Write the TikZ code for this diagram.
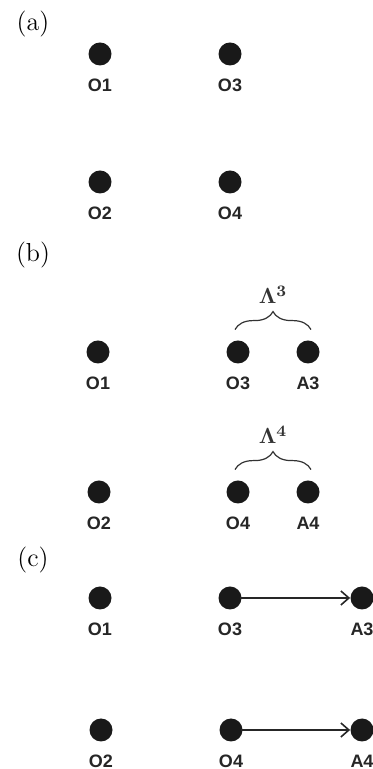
\documentclass[tikz,border=0pt]{standalone}
\usepackage[no-math]{fontspec}
\setsansfont{Liberation Sans}
\usetikzlibrary{arrows.meta,decorations.pathreplacing}

\tikzset{
  dot/.style={circle, fill=black!90, inner sep=0pt, minimum size=11.5pt},
  lbl/.style={font=\sffamily\bfseries\fontsize{9}{10}\selectfont, text=black!85, inner sep=0pt, label distance=6.5pt},
  panel/.style={font=\fontsize{13}{15}\selectfont, inner sep=0pt},
  grp/.style={decorate, decoration={brace, amplitude=9pt}, line width=0.6pt, black!80},
  lam/.style={inner sep=0pt, font=\fontsize{11}{12}\selectfont},
  arr/.style={-{Straight Barb[length=4pt, width=7pt, line width=0.8pt]}, line width=0.9pt, black!85, shorten <=-1pt}
}

\begin{document}
\begin{tikzpicture}[x=0.5pt, y=0.5pt]
\useasboundingbox (0,0) rectangle (372,769);

% (a)
\node[panel] (pa) at (33,744.5) {(a)};
\node[dot, label={[lbl, name=o1al]below:O1}] (o1a) at (100,715) {};
\node[dot, label={[lbl, name=o3al]below:O3}] (o3a) at (230,715) {};
\node[dot, label={[lbl, name=o2al]below:O2}] (o2a) at (100,587) {};
\node[dot, label={[lbl, name=o4al]below:O4}] (o4a) at (230,587) {};

% (b)
\node[panel] (pb) at (33,514) {(b)};
\node[dot, label={[lbl, name=o1bl]below:O1}] (o1b) at (98,417) {};
\node[dot, label={[lbl, name=o3bl]below:O3}] (o3b) at (238,417) {};
\node[dot, label={[lbl, name=a3bl]below:A3}] (a3b) at (308,417) {};
\node[dot, label={[lbl, name=o2bl]below:O2}] (o2b) at (99,277) {};
\node[dot, label={[lbl, name=o4bl]below:O4}] (o4b) at (238,277) {};
\node[dot, label={[lbl, name=a4bl]below:A4}] (a4b) at (308,277) {};
\draw[grp] ([xshift=-1.5pt, yshift=5.25pt]o3b.north) -- ([xshift=1.5pt, yshift=5.25pt]a3b.north)
  node[lam, midway, above=12.5pt] (lam3) {$\mathbf{\Lambda}^{\mathbf{3}}$};
\draw[grp] ([xshift=-1.5pt, yshift=5.25pt]o4b.north) -- ([xshift=1.5pt, yshift=5.25pt]a4b.north)
  node[lam, midway, above=12.5pt] (lam4) {$\mathbf{\Lambda}^{\mathbf{4}}$};

% (c)
\node[panel] (pc) at (33,209) {(c)};
\node[dot, label={[lbl, name=o1cl]below:O1}] (o1c) at (100,171) {};
\node[dot, label={[lbl, name=o3cl]below:O3}] (o3c) at (230,171) {};
\node[dot, label={[lbl, name=a3cl]below:A3}] (a3c) at (362,171) {};
\node[dot, label={[lbl, name=o2cl]below:O2}] (o2c) at (101,39) {};
\node[dot, label={[lbl, name=o4cl]below:O4}] (o4c) at (231,39) {};
\node[dot, label={[lbl, name=a4cl]below:A4}] (a4c) at (362,39) {};
\draw[arr] (o3c) -- (a3c);
\draw[arr] (o4c) -- (a4c);
\end{tikzpicture}
\end{document}
